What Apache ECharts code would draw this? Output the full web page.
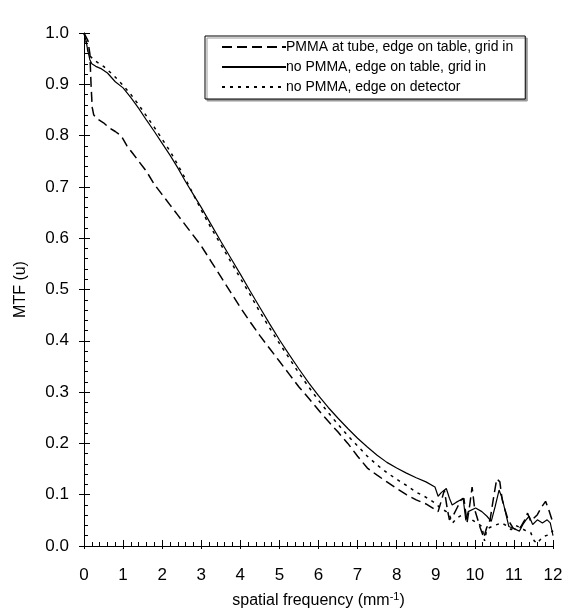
<!DOCTYPE html>
<html>
<head>
<meta charset="utf-8">
<script src="https://cdn.jsdelivr.net/npm/echarts@6/dist/echarts.min.js"></script>
<style>html,body{margin:0;padding:0;background:#fff}#c{width:581px;height:614px}</style>
</head>
<body>
<div id="c"></div>
<script>
// ---- data ----
const seriesNames = ['PMMA at tube, edge on table, grid in', 'no PMMA, edge on table, grid in', 'no PMMA, edge on detector'];
const xTicks = [0,1,2,3,4,5,6,7,8,9,10,11,12];
const yTicks = [0.0,0.1,0.2,0.3,0.4,0.5,0.6,0.7,0.8,0.9,1.0];

const xDashed = [0,0.1,0.15,0.18,0.21,0.25,0.35,0.5,0.65,0.8,0.95,1.1,1.25,1.4,1.6,1.8,2.0,2.2,2.4,2.6,2.8,3.0,3.25,3.5,3.75,4.0,4.25,4.5,4.75,5.0,5.25,5.5,5.75,6.0,6.25,6.5,6.75,7.0,7.25,7.5,7.75,8.0,8.25,8.5,8.75,9.0,9.06,9.15,9.22,9.3,9.35,9.45,9.55,9.65,9.72,9.8,9.87,9.93,10.0,10.14,10.23,10.3,10.39,10.47,10.56,10.64,10.7,10.77,10.85,10.98,11.1,11.18,11.27,11.35,11.43,11.52,11.6,11.7,11.81,11.89,12.0];
const yDashed = [1.0,0.985,0.96,0.9,0.855,0.84,0.832,0.825,0.815,0.808,0.8,0.78,0.765,0.75,0.73,0.705,0.685,0.665,0.645,0.625,0.605,0.585,0.555,0.525,0.495,0.465,0.437,0.41,0.385,0.36,0.335,0.31,0.288,0.265,0.243,0.222,0.2,0.175,0.152,0.138,0.125,0.112,0.1,0.09,0.082,0.07,0.067,0.09,0.109,0.07,0.051,0.06,0.075,0.09,0.093,0.045,0.08,0.115,0.07,0.035,0.016,0.035,0.051,0.09,0.131,0.125,0.09,0.071,0.051,0.035,0.03,0.038,0.05,0.064,0.048,0.055,0.061,0.075,0.087,0.071,0.045];

const xSolid = [0,0.05,0.1,0.15,0.2,0.3,0.45,0.6,0.8,1.0,1.2,1.4,1.6,1.8,2.0,2.2,2.4,2.6,2.8,3.0,3.25,3.5,3.75,4.0,4.25,4.5,4.75,5.0,5.25,5.5,5.75,6.0,6.25,6.5,6.75,7.0,7.25,7.5,7.75,8.0,8.25,8.5,8.75,8.98,9.06,9.14,9.27,9.35,9.42,9.52,9.64,9.7,9.77,9.83,10.02,10.18,10.31,10.42,10.52,10.62,10.7,10.78,10.87,11.02,11.14,11.23,11.31,11.39,11.48,11.6,11.73,11.85,11.93,12.0];
const ySolid = [1.0,0.985,0.965,0.948,0.94,0.935,0.93,0.922,0.905,0.893,0.874,0.853,0.83,0.808,0.785,0.762,0.737,0.71,0.685,0.66,0.627,0.594,0.562,0.53,0.497,0.465,0.433,0.402,0.373,0.345,0.318,0.293,0.27,0.249,0.229,0.21,0.193,0.177,0.163,0.152,0.142,0.133,0.125,0.115,0.097,0.104,0.112,0.093,0.08,0.085,0.09,0.093,0.05,0.067,0.074,0.067,0.058,0.048,0.077,0.109,0.093,0.067,0.038,0.033,0.029,0.042,0.051,0.058,0.042,0.051,0.045,0.051,0.045,0.02];

const xDotted = [0,0.05,0.1,0.15,0.3,0.5,0.75,1.0,1.2,1.4,1.6,1.8,2.0,2.2,2.4,2.6,2.8,3.0,3.25,3.5,3.75,4.0,4.25,4.5,4.75,5.0,5.25,5.5,5.75,6.0,6.25,6.5,6.75,7.0,7.25,7.5,7.75,8.0,8.25,8.5,8.75,9.0,9.1,9.27,9.35,9.43,9.55,9.68,9.8,9.93,10.05,10.18,10.25,10.3,10.35,10.5,10.68,10.8,10.93,11.05,11.18,11.3,11.43,11.52,11.6,11.7,11.77,11.9,12.0];
const yDotted = [1.0,0.985,0.965,0.955,0.945,0.935,0.918,0.898,0.88,0.86,0.838,0.816,0.793,0.77,0.743,0.715,0.685,0.655,0.62,0.588,0.555,0.522,0.49,0.456,0.425,0.395,0.366,0.337,0.31,0.284,0.26,0.237,0.215,0.195,0.175,0.158,0.143,0.13,0.118,0.105,0.095,0.083,0.075,0.067,0.06,0.045,0.055,0.061,0.055,0.051,0.045,0.038,0.01,0.03,0.035,0.04,0.045,0.04,0.032,0.04,0.035,0.03,0.026,0.01,0.005,0.015,0.019,0.022,0.03];

// ---- build ----
function pairs(xs, ys){ return xs.map((x,i)=>[x, ys[i]]); }
const FONT = 'Liberation Sans, Arial, Helvetica, sans-serif';
const chart = echarts.init(document.getElementById('c'), null, {renderer:'canvas'});
const baseX = {type:'value', min:xTicks[0], max:xTicks[xTicks.length-1], interval:1};
const baseY = {type:'value', min:yTicks[0], max:yTicks[yTicks.length-1], interval:0.1};
chart.setOption({
  animation:false,
  backgroundColor:'#fff',
  grid:{left:84, right:28, top:33, bottom:68, containLabel:false},
  legend:{
    orient:'vertical', left:205, top:36, width:320,
    padding:[4,12,5,16], itemGap:6, itemWidth:64, itemHeight:14,
    borderColor:'#000', borderWidth:1, backgroundColor:'#fff',
    shadowColor:'#999', shadowOffsetX:2, shadowOffsetY:2, shadowBlur:0,
    itemStyle:{opacity:0},
    textStyle:{fontFamily:FONT, fontSize:14, color:'#000', padding:[0,0,0,-5]},
    data:seriesNames
  },
  xAxis:[
    Object.assign({}, baseX, {
      position:'bottom',
      axisLine:{show:true, onZero:false, lineStyle:{color:'#000', width:1}},
      axisTick:{show:true, inside:true, length:6, lineStyle:{color:'#000'}},
      minorTick:{show:true, splitNumber:5, length:4, lineStyle:{color:'#000'}},
      splitLine:{show:false},
      axisLabel:{show:true, margin:21, fontFamily:FONT, fontSize:17, color:'#000', formatter:v=>String(v)},
      name:'{a|spatial frequency (mm}{s|-1}{a|)}', nameLocation:'middle', nameGap:45,
      nameTextStyle:{fontFamily:FONT, color:'#000', rich:{a:{fontFamily:FONT, fontSize:16, color:'#000'}, s:{fontFamily:FONT, fontSize:11, color:'#000', padding:[0,0,9,0]}}}
    }),
    Object.assign({}, baseX, {
      position:'bottom', axisLine:{show:false}, axisLabel:{show:false},
      axisTick:{show:true, inside:false, length:3, lineStyle:{color:'#000'}}, splitLine:{show:false}
    })
  ],
  yAxis:[
    Object.assign({}, baseY, {
      position:'left',
      axisLine:{show:true, onZero:false, lineStyle:{color:'#000', width:1}},
      axisTick:{show:true, inside:true, length:6, lineStyle:{color:'#000'}},
      minorTick:{show:true, splitNumber:5, length:4, lineStyle:{color:'#000'}},
      splitLine:{show:false},
      axisLabel:{show:true, margin:15, fontFamily:FONT, fontSize:17, color:'#000', formatter:v=>v.toFixed(1)},
      name:'MTF (u)', nameLocation:'middle', nameGap:55,
      nameTextStyle:{fontFamily:FONT, fontSize:16, color:'#000'}
    }),
    Object.assign({}, baseY, {
      position:'left', axisLine:{show:false}, axisLabel:{show:false},
      axisTick:{show:true, inside:false, length:5, lineStyle:{color:'#000'}}, splitLine:{show:false}
    })
  ],
  series:[
    {name:seriesNames[0], type:'line', symbol:'none', data:pairs(xDashed,yDashed),
     lineStyle:{color:'#000', width:1.5, type:[10,5]}, itemStyle:{color:'#000'}},
    {name:seriesNames[1], type:'line', symbol:'none', data:pairs(xSolid,ySolid),
     lineStyle:{color:'#000', width:1.2, type:'solid'}, itemStyle:{color:'#000'}},
    {name:seriesNames[2], type:'line', symbol:'none', data:pairs(xDotted,yDotted),
     lineStyle:{color:'#000', width:1.5, type:[3,5]}, itemStyle:{color:'#000'}}
  ]
});
</script>
</body>
</html>
